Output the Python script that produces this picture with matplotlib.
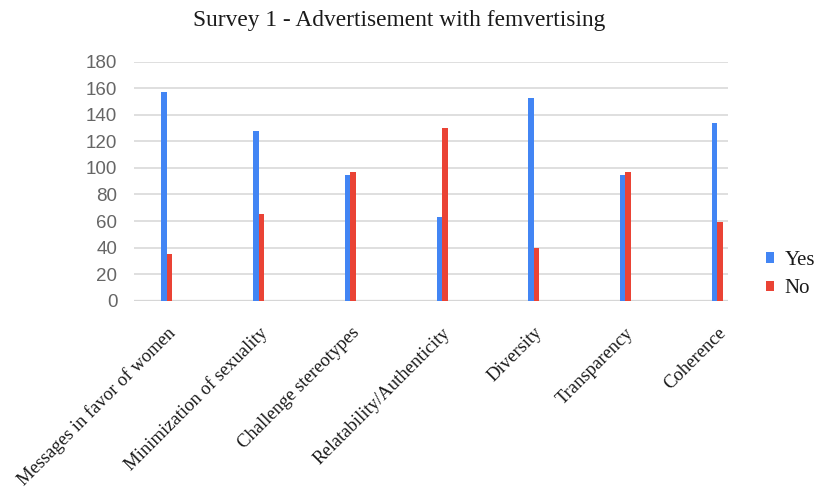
import matplotlib
matplotlib.use("Agg")
import matplotlib.pyplot as plt
import numpy as np

categories = ["Messages in favor of women", "Minimization of sexuality",
              "Challenge stereotypes", "Relatability/Authenticity",
              "Diversity", "Transparency", "Coherence"]
yes_counts = [157, 128, 95, 63, 153, 95, 134]
no_counts = [35, 65, 97, 130, 40, 97, 59]

BLUE = "#4285f4"
RED = "#ea4335"
SERIF = ["Liberation Serif", "DejaVu Serif"]

fig = plt.figure(figsize=(8.19, 4.88), dpi=100)
ax = fig.add_axes([0.1636, 0.3838, 0.7254, 0.4898])

x = np.arange(len(categories))
w = 0.06
ax.bar(x - w / 2, yes_counts, w, color=BLUE, label="Yes", zorder=3)
ax.bar(x + w / 2, no_counts, w, color=RED, label="No", zorder=3)

ax.set_ylim(0, 180)
ax.set_xlim(-0.36, 6.12)
ax.set_yticks(range(0, 181, 20))
ax.yaxis.grid(True, color="#d9d9d9", lw=1.2, zorder=0)
ax.axhline(0, color="#cccccc", lw=1.6, zorder=1)
for s in ax.spines.values():
    s.set_visible(False)
ax.tick_params(axis="both", length=0)
ax.tick_params(axis="y", labelsize=13.5, labelcolor="#666666", pad=12)
for lab in ax.get_yticklabels():
    lab.set_family(["Liberation Sans", "DejaVu Sans"])

ax.set_xticks(x)
ax.set_xticklabels(categories, rotation=45, ha="right", rotation_mode="anchor",
                   family=SERIF, fontsize=13.4, color="#1a1a1a")
ax.tick_params(axis="x", pad=17)

fig.suptitle("Survey 1 - Advertisement with femvertising", family=SERIF,
             fontsize=16.8, x=0.487, y=0.98, color="#1a1a1a")

fig.legend(loc="center left", bbox_to_anchor=(0.935, 0.437), frameon=False,
           prop={"family": SERIF, "size": 15}, handlelength=0.4,
           handleheight=0.4, handletextpad=0.5, labelspacing=0.45,
           borderpad=0, borderaxespad=0, labelcolor="#1a1a1a")

fig.savefig("out.png", dpi=100)
